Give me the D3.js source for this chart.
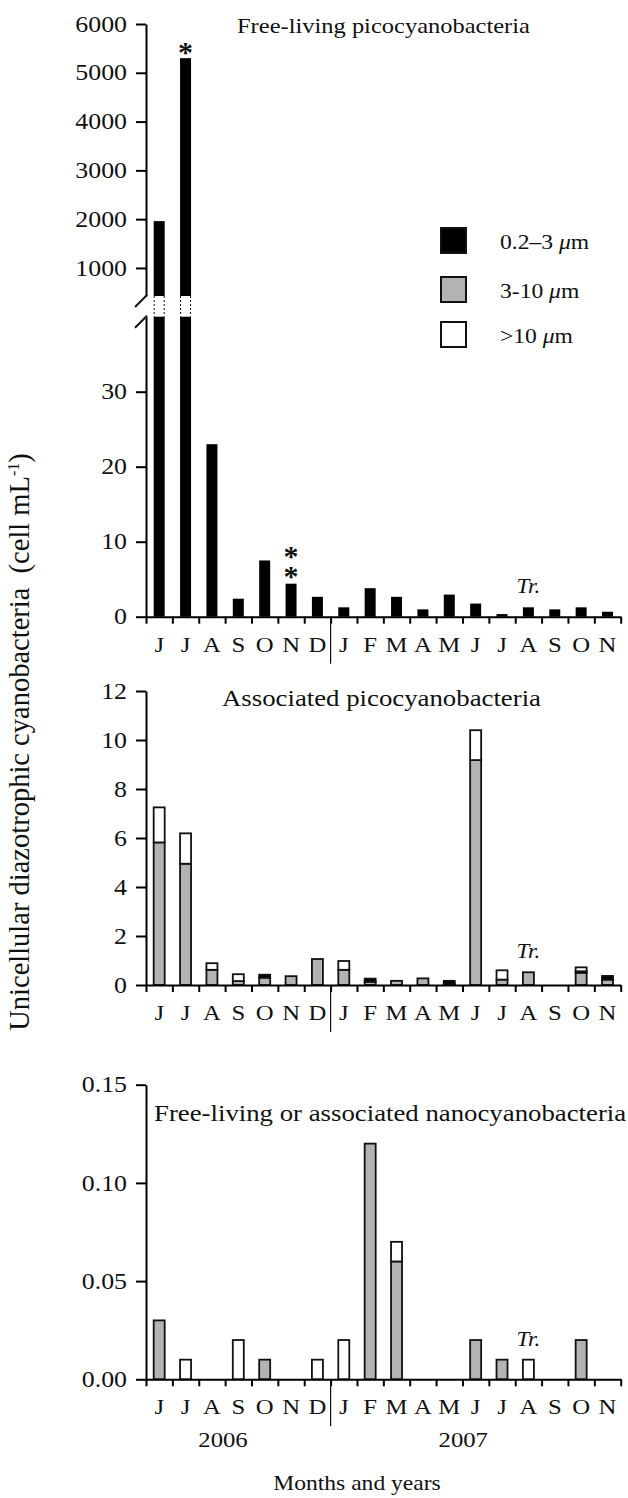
<!DOCTYPE html>
<html>
<head>
<meta charset="utf-8">
<script src="https://cdn.jsdelivr.net/npm/d3@7"></script>
<style>
  body { margin: 0; background: #fff; }
  svg { display: block; }
  text { font-family: "Liberation Serif", "Times New Roman", serif; fill: #111; }
</style>
</head>
<body>
<div id="chart"></div>
<script>
// months Jun 2006 -> Nov 2007
const months = ["J", "J", "A", "S", "O", "N", "D", "J", "F", "M", "A", "M", "J", "J", "A", "S", "O", "N"];
const years = ["2006", "2007"];
const yearPos = [2.92, 12.03]; // in month units from the start

// free-living picocyanobacteria (0.2-3 um)
const freePico = [1960, 5300, 23.0, 2.4, 7.5, 4.4, 2.65, 1.25, 3.8, 2.65, 0.98, 2.95, 1.75, 0.35, 1.25, 0.98, 1.25, 0.66];

// associated picocyanobacteria, by size fraction
const assocGray  = [5.82, 4.95, 0.62, 0.16, 0.30, 0.36, 1.06, 0.62, 0.13, 0.17, 0.27, 0.05, 9.18, 0.22, 0.52, 0, 0.50, 0.22];
const assocBlack = [0, 0, 0, 0, 0.12, 0, 0, 0, 0.13, 0, 0, 0.12, 0, 0, 0, 0, 0.06, 0.15];
const assocWhite = [1.43, 1.24, 0.27, 0.28, 0, 0, 0, 0.36, 0, 0, 0, 0, 1.22, 0.38, 0, 0, 0.16, 0];

// free-living or associated nanocyanobacteria
const nanoGray  = [0.03, 0, 0, 0, 0.01, 0, 0, 0, 0.12, 0.06, 0, 0, 0.02, 0.01, 0, 0, 0.02, 0];
const nanoWhite = [0, 0.01, 0, 0.02, 0, 0, 0.01, 0.02, 0, 0.01, 0, 0, 0, 0, 0.01, 0, 0, 0];

const upperTicks = [1000, 2000, 3000, 4000, 5000, 6000];
const lowerTicks = [0, 10, 20, 30];
const assocTicks = [0, 2, 4, 6, 8, 10, 12];
const nanoTicks = [0, 0.05, 0.10, 0.15];

const legendLabels = ["0.2\u20133 ", "3-10 ", ">10 "];
const legendFill = ["#000", "#b3b3b3", "#fff"];

const W = 628, H = 1498;
const SX = 1.15; // the original lettering is a bit wide
const GRAY = "#b3b3b3";

const svg = d3.select("#chart").append("svg")
    .attr("width", W)
    .attr("height", H);

const x = d3.scaleBand().domain(d3.range(months.length)).range([146, 620.7]);
const xl = d3.scaleLinear().domain([0, months.length]).range([146, 620.7]);
const barW = 11;
const bx = i => x(i) + (x.bandwidth() - barW) / 2;

function label(g, px, py, str, size, anchor) {
    return g.append("text")
        .attr("transform", `translate(${px},${py}) scale(${SX},1)`)
        .attr("text-anchor", anchor || "start")
        .style("font-size", size + "px")
        .text(str);
}

function yAxis(scale, ticks, fmt) {
    const g = svg.append("g")
        .attr("transform", "translate(146,0)")
        .call(d3.axisLeft(scale).tickValues(ticks).tickFormat(fmt).tickSize(10).tickSizeOuter(0));
    g.attr("font-family", null).attr("font-size", null);
    g.select(".domain").attr("stroke-width", 2);
    g.selectAll(".tick line").attr("stroke-width", 2);
    g.selectAll(".tick text")
        .attr("x", -19 / SX)
        .attr("transform", `scale(${SX},1)`)
        .style("font-size", "22.5px");
    return g;
}

function xAxis(y0) {
    const g = svg.append("g")
        .attr("transform", `translate(0,${y0})`)
        .call(d3.axisBottom(xl).tickValues(d3.range(months.length + 1)).tickFormat("").tickSize(7).tickSizeOuter(0));
    g.select(".domain").attr("stroke-width", 2);
    g.selectAll(".tick line").attr("stroke-width", 2);
    months.forEach((m, i) => label(svg, x(i) + x.bandwidth() / 2, y0 + 35, m, 21.5, "middle"));
    // year separator
    svg.append("line")
        .attr("x1", xl(7)).attr("x2", xl(7))
        .attr("y1", y0).attr("y2", y0 + 47)
        .attr("stroke", "#111").attr("stroke-width", 1.2);
}

function stackedBars(scale, keys, cols, fills) {
    const rows = months.map((m, i) => {
        const r = { i: i };
        keys.forEach((k, j) => r[k] = cols[j][i]);
        return r;
    });
    const series = d3.stack().keys(keys)(rows);
    series.forEach((s, j) => {
        svg.append("g").selectAll("rect")
            .data(s.filter(d => d[1] - d[0] > 0))
            .join("rect")
            .attr("x", d => bx(d.data.i))
            .attr("width", barW)
            .attr("y", d => scale(d[1]))
            .attr("height", d => scale(d[0]) - scale(d[1]))
            .attr("fill", fills[j])
            .attr("stroke", "#111")
            .attr("stroke-width", 1.8);
    });
}

function trace(scale, value) {
    svg.append("text")
        .attr("transform", `translate(${x(14) + x.bandwidth() / 2},${scale(value) - 14}) scale(${SX},1)`)
        .attr("text-anchor", "middle")
        .style("font-size", "20px")
        .style("font-style", "italic")
        .text("Tr.");
}

// ---------- panel 1 : free-living picocyanobacteria (broken axis)
const yUp = d3.scaleLinear().domain([425, 6000]).range([296, 24]);
const yLo = d3.scaleLinear().domain([0, 40]).range([616.7, 316.7]);

yAxis(yUp, upperTicks, d3.format("d"));
yAxis(yLo, lowerTicks, d3.format("d"));
xAxis(616.7);

// axis break marks
[yUp.range()[0], yLo.range()[1]].forEach(yb => {
    svg.append("line")
        .attr("x1", 135).attr("y1", yb + 11)
        .attr("x2", 147).attr("y2", yb - 1)
        .attr("stroke", "#111").attr("stroke-width", 2);
});

const p1 = svg.append("g");
p1.selectAll("rect.lo")
    .data(freePico.map((v, i) => ({ v, i })))
    .join("rect")
    .attr("x", d => bx(d.i))
    .attr("width", barW)
    .attr("y", d => yLo(Math.min(d.v, 40)))
    .attr("height", d => yLo(0) - yLo(Math.min(d.v, 40)))
    .attr("fill", "#000");

const broken = freePico.map((v, i) => ({ v, i })).filter(d => d.v > 40);
p1.selectAll("rect.up")
    .data(broken)
    .join("rect")
    .attr("x", d => bx(d.i))
    .attr("width", barW)
    .attr("y", d => yUp(d.v))
    .attr("height", d => yUp(425) - yUp(d.v))
    .attr("fill", "#000");
broken.forEach(d => {
    [bx(d.i) + 0.5, bx(d.i) + barW - 0.5].forEach(ex => {
        p1.append("line")
            .attr("x1", ex).attr("x2", ex)
            .attr("y1", yUp.range()[0]).attr("y2", yLo.range()[1])
            .attr("stroke", "#111").attr("stroke-width", 1)
            .attr("stroke-dasharray", "2,2");
    });
});

// significance marks
function stars(i, yc, n) {
    const t = svg.append("text")
        .attr("text-anchor", "middle")
        .style("font-size", "30px")
        .style("font-weight", "bold");
    for (let k = 0; k < n; k++) {
        t.append("tspan")
            .attr("x", x(i) + x.bandwidth() / 2)
            .attr("y", yc + 14 - k * 20)
            .text("*");
    }
}
stars(1, yUp(freePico[1]) - 10, 1);
stars(5, yLo(freePico[5]) - 12, 2);

trace(yLo, freePico[14]);
label(svg, 237, 33, "Free-living picocyanobacteria", 21.3);

// legend
legendLabels.forEach((t, k) => {
    const ly = [228, 277, 322][k];
    svg.append("rect")
        .attr("x", 441).attr("y", ly)
        .attr("width", 25).attr("height", 25)
        .attr("fill", legendFill[k])
        .attr("stroke", "#111").attr("stroke-width", 2);
    const tx = label(svg, 500, ly + 21, "", 20.5);
    tx.append("tspan").text(t);
    tx.append("tspan").style("font-style", "italic").text("\u03bc");
    tx.append("tspan").text("m");
});

// ---------- panel 2 : associated picocyanobacteria
const yAs = d3.scaleLinear().domain([0, 12]).range([985, 691]);
yAxis(yAs, assocTicks, d3.format("d"));
stackedBars(yAs, ["gray", "black", "white"], [assocGray, assocBlack, assocWhite], [GRAY, "#000", "#fff"]);
xAxis(985);
trace(yAs, assocGray[14]);
label(svg, 222, 706, "Associated picocyanobacteria", 23.3);

// ---------- panel 3 : nanocyanobacteria
const yNa = d3.scaleLinear().domain([0, 0.15]).range([1379.3, 1084.7]);
yAxis(yNa, nanoTicks, d3.format(".2f"));
stackedBars(yNa, ["gray", "white"], [nanoGray, nanoWhite], [GRAY, "#fff"]);
xAxis(1379.3);
trace(yNa, nanoGray[14] + nanoWhite[14]);
label(svg, 154, 1121, "Free-living or associated nanocyanobacteria", 23.3);

years.forEach((yr, k) => label(svg, xl(yearPos[k]), 1447, yr, 21.5, "middle"));
label(svg, 357, 1490, "Months and years", 20.5, "middle");

// y axis title
const yt = svg.append("text")
    .attr("transform", "translate(29,742) rotate(-90)")
    .attr("text-anchor", "middle")
    .style("font-size", "28.5px")
    .attr("xml:space", "preserve");
yt.append("tspan").text("Unicellular diazotrophic cyanobacteria\u00a0 (cell mL");
yt.append("tspan").attr("dy", -10).style("font-size", "16px").text("-1");
yt.append("tspan").attr("dy", 10).text(")");
</script>
</body>
</html>
